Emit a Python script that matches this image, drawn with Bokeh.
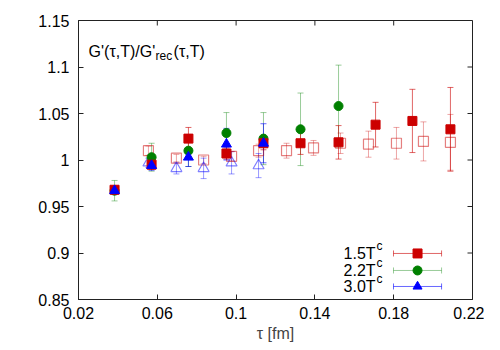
import math
from bokeh.plotting import figure
from bokeh.models import ColumnDataSource, Whisker, TeeHead, FixedTicker, Range1d
from bokeh.core.properties import value
from bokeh.embed import file_html
from bokeh.resources import INLINE

# ---------------- data ----------------
# 1.5 Tc (filled squares)
tau_15 = [0.0383, 0.0571, 0.0758, 0.0951, 0.1139, 0.1327, 0.1520, 0.1708, 0.1895, 0.2088]
g_15 = [0.968, 0.995, 1.023, 1.007, 1.018, 1.018, 1.019, 1.038, 1.042, 1.033]
e_15 = [0.004, 0.005, 0.012, 0.006, 0.007, 0.012, 0.018, 0.024, 0.034, 0.045]
# 1.5 Tc second lattice (open squares)
tau_15f = [0.0555, 0.0697, 0.0835, 0.0977, 0.1114, 0.1256, 0.1393, 0.1530, 0.1672, 0.1814, 0.1951, 0.2088]
g_15f = [1.010, 1.002, 1.000, 1.004, 1.010, 1.010, 1.013, 1.018, 1.017, 1.018, 1.020, 1.019]
e_15f = [0.005, 0.004, 0.004, 0.005, 0.007, 0.008, 0.008, 0.011, 0.014, 0.017, 0.021, 0.030]
# 2.2 Tc (filled circles)
tau_22 = [0.0383, 0.0571, 0.0758, 0.0951, 0.1139, 0.1327, 0.1520]
g_22 = [0.967, 1.003, 1.010, 1.029, 1.023, 1.033, 1.058]
e_22 = [0.011, 0.015, 0.017, 0.022, 0.028, 0.039, 0.044]
# 3.0 Tc (filled triangles)
tau_30 = [0.0383, 0.0571, 0.0758, 0.0951, 0.1139]
g_30 = [0.967, 0.994, 1.003, 1.017, 1.018]
e_30 = [0.004, 0.005, 0.010, 0.017, 0.021]
# 3.0 Tc second lattice (open triangles)
tau_30f = [0.0555, 0.0697, 0.0835, 0.0977, 0.1114]
g_30f = [0.997, 0.991, 0.991, 0.997, 0.994]
e_30f = [0.005, 0.006, 0.011, 0.012, 0.013]

x_ticks = [0.02, 0.06, 0.1, 0.14, 0.18, 0.22]
x_tick_labels = ["0.02", "0.06", "0.1", "0.14", "0.18", "0.22"]
y_ticks = [0.85, 0.9, 0.95, 1.0, 1.05, 1.1, 1.15]
y_tick_labels = ["0.85", "0.9", "0.95", "1", "1.05", "1.1", "1.15"]

legend_labels = ["1.5T", "2.2T", "3.0T"]
title_parts = ["G'(\u03c4,T)/G'", "rec", "(\u03c4,T)"]
x_label = "\u03c4 [fm]"

RED = "#cc0000"
GREEN = "#008000"
BLUE = "#0000ff"
FONT = "Liberation Sans"
AXC = "#222222"

X_MIN, X_MAX = 0.02, 0.22
Y_MIN, Y_MAX = 0.85, 1.15

# ---------------- figure ----------------
p = figure(width=484, height=346, output_backend="svg", toolbar_location=None,
           x_range=Range1d(X_MIN, X_MAX), y_range=Range1d(Y_MIN, Y_MAX),
           min_border_left=78, min_border_right=12, min_border_top=20, min_border_bottom=47)
p.grid.visible = False
p.outline_line_color = AXC
p.background_fill_color = "white"
p.border_fill_color = "white"

xt = FixedTicker(ticks=x_ticks)
yt = FixedTicker(ticks=y_ticks)

for ax in p.xaxis:
    ax.ticker = xt
    ax.major_label_overrides = {t: l for t, l in zip(x_ticks, x_tick_labels)}
    ax.axis_label = x_label
for ax in p.yaxis:
    ax.ticker = yt
    ax.major_label_overrides = {t: l for t, l in zip(y_ticks, y_tick_labels)}

for ax in list(p.xaxis) + list(p.yaxis):
    ax.major_tick_in = 5
    ax.major_tick_out = 0
    ax.minor_tick_line_color = None
    ax.axis_line_color = AXC
    ax.major_tick_line_color = AXC
    ax.major_label_text_font = FONT
    ax.major_label_text_font_size = "16px"
    ax.major_label_text_color = "black"
    ax.axis_label_text_font = FONT
    ax.axis_label_text_font_size = "16px"
    ax.axis_label_text_font_style = "normal"
for ax in p.xaxis:
    ax.major_label_standoff = 7
    ax.axis_label_standoff = 3
for ax in p.yaxis:
    ax.major_label_standoff = 9

# mirrored inward ticks on top and right edges
p.ray(x=[X_MAX] * len(y_ticks), y=y_ticks, length=5, length_units="screen", angle=math.pi,
      line_color=AXC, line_width=1)
p.ray(x=x_ticks, y=[Y_MAX] * len(x_ticks), length=5, length_units="screen", angle=-math.pi / 2,
      line_color=AXC, line_width=1)


def errbars(x, y, e, color, alpha):
    src = ColumnDataSource(dict(x=x, lo=[a - b for a, b in zip(y, e)], hi=[a + b for a, b in zip(y, e)]))
    w = Whisker(base="x", lower="lo", upper="hi", source=src, level="underlay",
                line_color=color, line_alpha=alpha, line_width=1,
                upper_head=TeeHead(size=6, line_color=color, line_alpha=alpha, line_width=1),
                lower_head=TeeHead(size=6, line_color=color, line_alpha=alpha, line_width=1))
    p.add_layout(w)


# error bars
errbars(tau_15f, g_15f, e_15f, RED, 0.35)
errbars(tau_30f, g_30f, e_30f, BLUE, 0.4)
errbars(tau_22, g_22, e_22, GREEN, 0.4)
errbars(tau_15, g_15, e_15, RED, 0.6)
errbars(tau_30, g_30, e_30, BLUE, 0.6)

# markers
p.scatter(tau_15f, g_15f, marker="square", size=10, fill_color=None, line_color=RED, line_alpha=0.5, line_width=1.2)
p.scatter(tau_30f, g_30f, marker="triangle", size=11, fill_color=None, line_color=BLUE, line_alpha=0.5, line_width=1.2)
p.scatter(tau_22, g_22, marker="circle", size=9, fill_color=GREEN, line_color=GREEN)
p.scatter(tau_15, g_15, marker="square", size=9, fill_color=RED, line_color=RED)
p.scatter(tau_30, g_30, marker="triangle", size=10, fill_color=BLUE, line_color=BLUE)

# ---------------- title text ----------------
tx, ty = 0.0251, 1.1167
p.text(x=[tx], y=[ty], text=[title_parts[0]], text_font=value(FONT), text_font_size="16px",
       text_baseline="middle", text_align="left", text_color="black")
p.text(x=[tx], y=[ty], text=[title_parts[1]], x_offset=67, y_offset=5, text_font=value(FONT),
       text_font_size="12px", text_baseline="middle", text_align="left", text_color="black")
p.text(x=[tx], y=[ty], text=[title_parts[2]], x_offset=85, text_font=value(FONT), text_font_size="16px",
       text_baseline="middle", text_align="left", text_color="black")

# ---------------- legend ----------------
leg_colors = [RED, GREEN, BLUE]
leg_line_alpha = [0.6, 0.4, 0.6]
leg_markers = ["square", "circle", "triangle"]
leg_y = [0.8995, 0.8812, 0.8640]
lx0, lx1, lxm, ltx = 0.1799, 0.2043, 0.1921, 0.1708
for lab, c, la, mk, yy in zip(legend_labels, leg_colors, leg_line_alpha, leg_markers, leg_y):
    src = ColumnDataSource(dict(y=[yy], lo=[lx0], hi=[lx1]))
    p.add_layout(Whisker(base="y", lower="lo", upper="hi", dimension="width", source=src,
                         line_color=c, line_alpha=la, line_width=1,
                         upper_head=TeeHead(size=6, line_color=c, line_alpha=la, line_width=1),
                         lower_head=TeeHead(size=6, line_color=c, line_alpha=la, line_width=1)))
    p.scatter([lxm], [yy], marker=mk, size=9, fill_color=c, line_color=c)
    p.text(x=[ltx], y=[yy], text=[lab], text_font=value(FONT), text_font_size="16px",
           text_baseline="middle", text_align="right", text_color="black")
    p.text(x=[ltx], y=[yy], text=["c"], x_offset=1, y_offset=-7, text_font=value(FONT),
           text_font_size="12px", text_baseline="middle", text_align="left", text_color="black")

open("out.html", "w").write(file_html(p, INLINE))
